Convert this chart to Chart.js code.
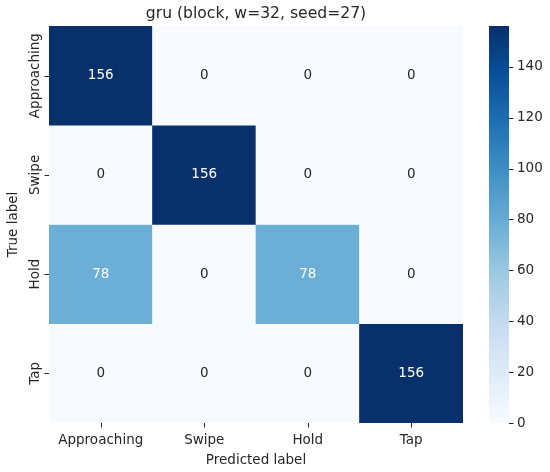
<!DOCTYPE html>
<html lang="en">
<head>
    <meta charset="UTF-8">
    <title>Confusion matrix</title>
    <script src="https://cdn.jsdelivr.net/npm/chart.js"></script>
    <style>
        html, body { margin: 0; padding: 0; background: #fff; }
        #wrap { width: 550px; height: 472px; }
    </style>
</head>
<body>
    <div id="wrap">
        <canvas id="cm" width="550" height="472"></canvas>
    </div>

    <script>
        // Class names (same for rows and columns)
        const predLabels = ['Approaching', 'Swipe', 'Hold', 'Tap'];
        const trueLabels = ['Approaching', 'Swipe', 'Hold', 'Tap'];

        // One array per true label: counts over predicted labels
        const rowApproaching = [156, 0, 0, 0];
        const rowSwipe = [0, 156, 0, 0];
        const rowHold = [78, 0, 78, 0];
        const rowTap = [0, 0, 0, 156];
        const rows = [rowApproaching, rowSwipe, rowHold, rowTap];

        // Colorbar ticks and range
        const cbarTicks = [0, 20, 40, 60, 80, 100, 120, 140];
        const vmin = 0;
        const vmax = 156;

        const titleText = 'gru (block, w=32, seed=27)';
        const xTitle = 'Predicted label';
        const yTitle = 'True label';

        // matplotlib "Blues"
        const blues = ['#f7fbff', '#deebf7', '#c6dbef', '#9ecae1', '#6baed6',
                       '#4292c6', '#2171b5', '#08519c', '#08306b'];

        function hexRgb(h) {
            return [parseInt(h.slice(1, 3), 16), parseInt(h.slice(3, 5), 16), parseInt(h.slice(5, 7), 16)];
        }
        function colorRgb(v) {
            let t = (v - vmin) / (vmax - vmin);
            t = Math.max(0, Math.min(1, t));
            const pos = t * (blues.length - 1);
            const i = Math.min(Math.floor(pos), blues.length - 2);
            const f = pos - i;
            const a = hexRgb(blues[i]), b = hexRgb(blues[i + 1]);
            return a.map((c, k) => Math.round(c + (b[k] - c) * f));
        }
        function cellColor(v) {
            const c = colorRgb(v);
            return 'rgb(' + c.join(',') + ')';
        }
        function textColor(v) {
            // same rule seaborn uses: light text on dark cells
            const lin = colorRgb(v).map(c => {
                c /= 255;
                return c <= 0.03928 ? c / 12.92 : Math.pow((c + 0.055) / 1.055, 2.4);
            });
            const lum = 0.2126 * lin[0] + 0.7152 * lin[1] + 0.0722 * lin[2];
            return lum > 0.408 ? '#262626' : '#ffffff';
        }

        // one floating-bar dataset per row, spanning [row, row + 1] on the y scale
        const datasets = rows.map((vals, r) => ({
            label: trueLabels[r],
            data: vals.map(() => [r, r + 1]),
            counts: vals,
            backgroundColor: vals.map(cellColor),
            borderWidth: 0,
            categoryPercentage: 1.0,
            barPercentage: 1.0,
            grouped: false
        }));

        const FONT = "'DejaVu Sans', sans-serif";
        const TICK_FONT = '13.5px ' + FONT;

        const heatmapDecor = {
            id: 'heatmapDecor',
            afterDatasetsDraw(chart) {
                const ctx = chart.ctx;
                const xs = chart.scales.x, ys = chart.scales.y, cs = chart.scales.cbar;
                const area = chart.chartArea;
                ctx.save();

                // cell annotations
                ctx.font = TICK_FONT;
                ctx.textAlign = 'center';
                ctx.textBaseline = 'middle';
                chart.data.datasets.forEach((ds, r) => {
                    const meta = chart.getDatasetMeta(r);
                    meta.data.forEach((bar, c) => {
                        const v = ds.counts[c];
                        ctx.fillStyle = textColor(v);
                        ctx.fillText(String(v), bar.x, (bar.y + bar.base) / 2);
                    });
                });

                // tick marks
                ctx.strokeStyle = '#262626';
                ctx.lineWidth = 1;
                ctx.beginPath();
                predLabels.forEach((_, i) => {
                    const px = Math.round(xs.getPixelForValue(i)) + 0.5;
                    ctx.moveTo(px, area.bottom);
                    ctx.lineTo(px, area.bottom + 4.5);
                });
                trueLabels.forEach((_, i) => {
                    const py = Math.round(ys.getPixelForValue(i + 0.5)) + 0.5;
                    ctx.moveTo(area.left, py);
                    ctx.lineTo(area.left - 4.5, py);
                });
                ctx.stroke();

                // x tick labels + title
                ctx.fillStyle = '#262626';
                ctx.font = TICK_FONT;
                ctx.textAlign = 'center';
                ctx.textBaseline = 'alphabetic';
                predLabels.forEach((lab, i) => {
                    ctx.fillText(lab, xs.getPixelForValue(i), 444);
                });
                ctx.fillText(xTitle, (area.left + area.right) / 2, 464);

                // y tick labels (rotated)
                ctx.textBaseline = 'middle';
                trueLabels.forEach((lab, i) => {
                    ctx.save();
                    ctx.translate(35, ys.getPixelForValue(i + 0.5));
                    ctx.rotate(-Math.PI / 2);
                    ctx.fillText(lab, 0, 0);
                    ctx.restore();
                });
                ctx.save();
                ctx.translate(13, (area.top + area.bottom) / 2);
                ctx.rotate(-Math.PI / 2);
                ctx.fillText(yTitle, 0, 0);
                ctx.restore();

                // chart title
                ctx.font = '15.6px ' + FONT;
                ctx.textBaseline = 'alphabetic';
                ctx.fillText(titleText, (area.left + area.right) / 2, 18);

                // colorbar
                const cbL = 489, cbR = 509;
                const yTop = cs.getPixelForValue(vmax), yBot = cs.getPixelForValue(vmin);
                const grad = ctx.createLinearGradient(0, yBot, 0, yTop);
                blues.forEach((c, i) => grad.addColorStop(i / (blues.length - 1), c));
                ctx.fillStyle = grad;
                ctx.fillRect(cbL, yTop, cbR - cbL, yBot - yTop);

                ctx.beginPath();
                cbarTicks.forEach(t => {
                    const py = Math.round(cs.getPixelForValue(t)) + 0.5;
                    ctx.moveTo(cbR, py);
                    ctx.lineTo(cbR + 4.5, py);
                });
                ctx.stroke();
                ctx.fillStyle = '#262626';
                ctx.font = TICK_FONT;
                ctx.textAlign = 'left';
                ctx.textBaseline = 'middle';
                cbarTicks.forEach(t => {
                    ctx.fillText(String(t), cbR + 8, cs.getPixelForValue(t));
                });

                ctx.restore();
            }
        };

        const chart = new Chart(document.getElementById('cm').getContext('2d'), {
            type: 'bar',
            data: { labels: predLabels, datasets: datasets },
            options: {
                responsive: false,
                animation: false,
                layout: { padding: { left: 49, top: 26, right: 87, bottom: 49 } },
                plugins: {
                    legend: { display: false },
                    tooltip: { enabled: false },
                    title: { display: false }
                },
                scales: {
                    x: { type: 'category', display: false, offset: true },
                    y: { type: 'linear', display: false, min: 0, max: trueLabels.length, reverse: true },
                    cbar: { type: 'linear', axis: 'y', display: false, min: vmin, max: vmax }
                }
            },
            plugins: [heatmapDecor]
        });
    </script>
</body>
</html>
